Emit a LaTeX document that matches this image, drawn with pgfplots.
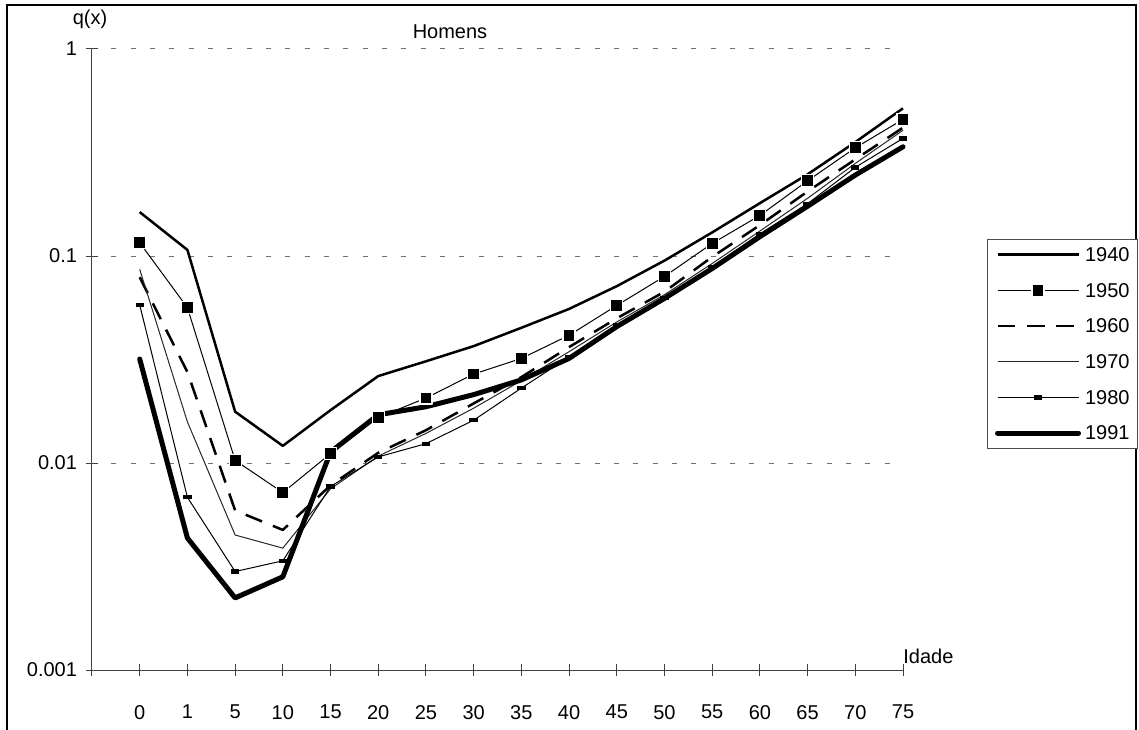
\documentclass[border=0pt]{standalone}
\usepackage{fontspec}
\setmainfont{Liberation Sans}
\usepackage{pgfplots}
\usepackage{pgfplotstable}
\pgfplotsset{compat=1.18}

% q(x) by age group; age groups plotted at positions 0..16
\pgfplotstableread{
x q1940 q1950 q1960 q1970 q1980 q1991
0 0.163 0.116 0.079 0.0862 0.058 0.0318
1 0.107 0.0563 0.0275 0.0158 0.00683 0.00434
2 0.0177 0.0103 0.0059 0.00449 0.00299 0.00223
3 0.0121 0.0072 0.00475 0.00388 0.00337 0.00282
4 0.018 0.0111 0.0078 0.0075 0.0077 0.0113
5 0.0263 0.0166 0.0112 0.0108 0.0107 0.0171
6 0.031 0.0206 0.0144 0.0139 0.0124 0.0187
7 0.0367 0.0269 0.0194 0.0184 0.0161 0.0214
8 0.0450 0.0320 0.026 0.0250 0.0230 0.0252
9 0.0555 0.0414 0.0363 0.0345 0.0325 0.0320
10 0.0715 0.0577 0.050 0.048 0.0464 0.0456
11 0.095 0.0797 0.0672 0.065 0.0627 0.0624
12 0.130 0.115 0.099 0.092 0.0888 0.087
13 0.180 0.157 0.141 0.132 0.128 0.124
14 0.248 0.231 0.205 0.190 0.179 0.174
15 0.355 0.333 0.293 0.280 0.268 0.246
16 0.517 0.457 0.417 0.405 0.370 0.337
}\qdata

% small flat bar used as marker for 1980
\pgfdeclareplotmark{hbar}{%
  \pgfpathrectangle{\pgfpoint{-2.5pt}{-1.3pt}}{\pgfpoint{5pt}{2.6pt}}%
  \pgfusepathqfill}

\newcommand\chartfont{\fontsize{12}{14}\selectfont}

\begin{document}
\begin{tikzpicture}[font=\chartfont]
\useasboundingbox (0,0) rectangle (683.4pt,437.4pt);
% outer frame (open at the bottom)
\draw[line width=1.2pt] (4.2pt,-5pt) -- (4.2pt,434.4pt) -- (681.6pt,434.4pt) -- (681.6pt,-5pt);

\begin{axis}[
  at={(55.2pt,35.4pt)}, anchor=south west,
  scale only axis, width=486.6pt, height=372.6pt,
  ymode=log, ymin=0.001, ymax=1,
  xmin=-1, xmax=16,
  clip=false,
  axis x line*=bottom, axis y line*=left,
  axis line style={-, black!75, line width=0.6pt},
  every tick/.style={black!75, line width=0.6pt},
  tick align=center, major tick length=7pt,
  xminorticks=false, yminorticks=false,
  ytick={0.001,0.01,0.1,1},
  yticklabels={0.001,0.01,0.1,1},
  xtick={-1,0,...,16},
  xticklabels={,0,1,5,10,15,20,25,30,35,40,45,50,55,60,65,70,75},
  tick label style={font=\chartfont},
  yticklabel style={xshift=-2pt},
  xticklabel style={yshift=-14pt},
  /pgf/number format/assume math mode=true,
  ymajorgrids,
  major grid style={black!55, line width=0.6pt, dash pattern=on 3pt off 8.6pt},
  legend style={at={(1.1036,0.6940)}, anchor=north west,
    draw=black!70, line width=0.6pt, fill=white,
    font=\chartfont,
    inner xsep=4.5pt, inner ysep=5pt,
    nodes={inner sep=0pt, text height=8.2pt, text depth=0pt},
    row sep=13.2pt, column sep=2.4pt},
  legend cell align=left,
  legend image code/.code={%
    \draw[mark repeat=2,mark phase=2,#1] plot coordinates {(0pt,0pt) (24.3pt,0pt) (48.6pt,0pt)};},
  every axis plot/.append style={line join=round},
]
\addplot[black, line width=1.5pt] table[x=x,y=q1940] {\qdata};
\addlegendentry{1940}
\addplot[black, line width=0.6pt, mark=square*, mark size=3.6pt,
  mark options={solid, fill=black, draw=white, line width=0.7pt}] table[x=x,y=q1950] {\qdata};
\addlegendentry{1950}
\addplot[black, line width=1.5pt, dash pattern=on 10.6pt off 7pt] table[x=x,y=q1960] {\qdata};
\addlegendentry{1960}
\addplot[black!85, line width=0.6pt] table[x=x,y=q1970] {\qdata};
\addlegendentry{1970}
\addplot[black, line width=0.6pt, mark=hbar] table[x=x,y=q1980] {\qdata};
\addlegendentry{1980}
\addplot[black, line width=3pt, line cap=round] table[x=x,y=q1991] {\qdata};
\addlegendentry{1991}
\end{axis}

\node at (54pt,426pt) {q(x)};
\node at (270pt,418.2pt) {Homens};
\node[anchor=west, inner sep=0pt] at (541.8pt,43.8pt) {Idade};
\end{tikzpicture}
\end{document}
